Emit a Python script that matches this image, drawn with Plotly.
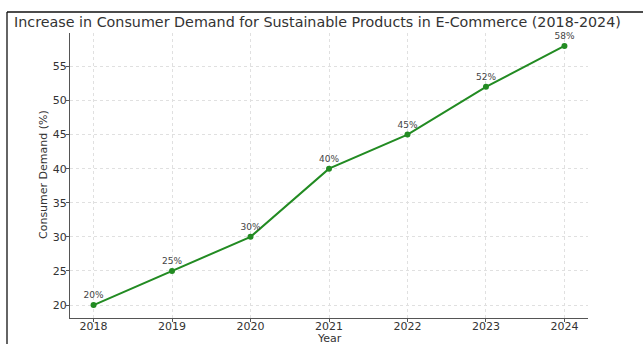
import plotly.graph_objects as go

years = [2018, 2019, 2020, 2021, 2022, 2023, 2024]
demand = [20, 25, 30, 40, 45, 52, 58]
y_ticks = [20, 25, 30, 35, 40, 45, 50, 55]

W, H = 643, 344
ML, MR, MT, MB = 70, 55, 33, 26
pw, ph = W - ML - MR, H - MT - MB

def px_x(p):
    return (p - ML) / pw

def px_y(p):
    return (H - MB - p) / ph

fig = go.Figure()
fig.add_trace(go.Scatter(
    x=years, y=demand,
    mode="lines+markers+text",
    line=dict(color="#228B22", width=2),
    marker=dict(color="#228B22", size=6),
    text=[f"{v}%" for v in demand],
    textposition="top center",
    textfont=dict(family="DejaVu Sans", size=9, color="#444444"),
    cliponaxis=False,
    hoverinfo="skip",
))

# Major ticks carry only labels (kept close to the spine); the short
# outside tick marks come from minor ticks at the same positions.
axis_common = dict(
    showgrid=True, gridcolor="#e0e0e0", griddash="dot", gridwidth=1,
    showline=True, linecolor="#555555", linewidth=1.3,
    ticks="",
    tickfont=dict(family="DejaVu Sans", size=11, color="#333333"),
    zeroline=False, automargin=False,
)
minor_ticks = dict(ticks="outside", ticklen=3, tickcolor="#555555",
                   tickwidth=1, showgrid=False, tickmode="array")

title_font = dict(family="DejaVu Sans", size=11, color="#333333")

fig.update_layout(
    width=W, height=H,
    margin=dict(l=ML, r=MR, t=MT, b=MB, autoexpand=False),
    paper_bgcolor="white", plot_bgcolor="white",
    showlegend=False,
    xaxis=dict(**axis_common, range=[2017.7, 2024.3], tickvals=years,
               ticklabelstandoff=-2,
               minor=dict(**minor_ticks, tickvals=years)),
    yaxis=dict(**axis_common, range=[18.1, 59.9], tickvals=y_ticks,
               minor=dict(**minor_ticks, tickvals=y_ticks)),
    annotations=[
        dict(text="Increase in Consumer Demand for Sustainable Products in E-Commerce (2018-2024)",
             xref="paper", yref="paper", x=px_x(12), y=px_y(22),
             xanchor="left", yanchor="middle", showarrow=False,
             font=dict(family="DejaVu Sans", size=14.3, color="#333333")),
        dict(text="Year", xref="paper", yref="paper", x=px_x(329), y=px_y(338.5),
             xanchor="center", yanchor="middle", showarrow=False, font=title_font),
        dict(text="Consumer Demand (%)", xref="paper", yref="paper", x=px_x(43), y=px_y(175),
             xanchor="center", yanchor="middle", showarrow=False, textangle=-90, font=title_font),
    ],
    shapes=[
        dict(type="line", xref="paper", yref="paper",
             x0=px_x(7), x1=px_x(7), y0=px_y(12), y1=px_y(360),
             line=dict(color="#111111", width=1.3)),
        dict(type="line", xref="paper", yref="paper",
             x0=px_x(7), x1=px_x(660), y0=px_y(12), y1=px_y(12),
             line=dict(color="#111111", width=1.3)),
    ],
)

fig.write_html("out.html")
